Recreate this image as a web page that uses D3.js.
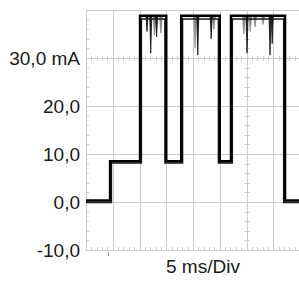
<!DOCTYPE html>
<head>
    <meta charset="utf-8">
    <style>
        body { margin: 0; background: #fff; }
        .lbl { font-family: "Liberation Sans", Arial, sans-serif; font-size: 19px; fill: #1a1a1a; }
    </style>
    <script src="https://d3js.org/d3.v7.min.js"></script>
</head>
<body>
<div id="chart"></div>
<script>

    // time in ms, current in mA
    var traceTime = [0, 4.5, 4.5, 10.1, 10.1, 15.0, 15.0, 17.8, 17.8, 25.0, 25.0, 27.1, 27.1, 37.2, 37.2, 40];
    var traceMA   = [0.3, 0.3, 8.5, 8.5, 38.8, 38.8, 8.5, 8.5, 38.8, 38.8, 8.5, 8.5, 38.8, 38.8, 0.3, 0.3];

    // second, slightly inner trace that makes the edges look thick
    var innerTime = [0, 4.75, 4.75, 10.35, 10.35, 14.75, 14.75, 18.05, 18.05, 24.75, 24.75, 27.35, 27.35, 36.95, 36.95, 40];
    var innerMA   = [-0.1, -0.1, 8.1, 8.1, 38.1, 38.1, 8.1, 8.1, 38.1, 38.1, 8.1, 8.1, 38.1, 38.1, -0.1, -0.1];

    // downward glitches from the top level
    var blackSpikeTime = [11.4, 12.1, 13.2, 20.9, 23.4, 30.1, 34.4, 34.8];
    var blackSpikeMA   = [35.5, 31.0, 34.4, 30.6, 34.0, 31.0, 30.6, 33.0];
    var graySpikeTime  = [12.8, 14.0, 20.4, 23.9, 29.5, 30.7, 31.6, 33.1];
    var graySpikeMA    = [34.8, 35.2, 32.0, 36.0, 35.0, 35.5, 36.5, 37.0];

    var yTicks = [-10, 0, 10, 20, 30];
    var yLabels = ["-10,0", "0,0", "10,0", "20,0", "30,0 mA"];
    var xDivs = [0, 5, 10, 15, 20, 25, 30, 35, 40];

    var W = 299, H = 281;

    var x = d3.scaleLinear().domain([0, 40]).range([86, 300]);
    var y = d3.scaleLinear().domain([-10, 40]).range([250, 10]);

    var svg = d3.select("#chart").append("svg")
        .attr("width", W)
        .attr("height", H);

    var grid = svg.append("g");
    var gridColor = "#cdcdcd";

    // vertical division lines
    grid.selectAll(".vl").data(xDivs).enter().append("line")
        .attr("x1", d => Math.round(x(d)) + 0.5)
        .attr("x2", d => Math.round(x(d)) + 0.5)
        .attr("y1", y(40)).attr("y2", y(-10))
        .attr("stroke", gridColor);

    // horizontal lines + top border
    grid.selectAll(".hl").data(yTicks.concat([40])).enter().append("line")
        .attr("x1", x(0)).attr("x2", x(40))
        .attr("y1", d => Math.round(y(d)) + 0.5)
        .attr("y2", d => Math.round(y(d)) + 0.5)
        .attr("stroke", gridColor);

    // minor ticks
    var minorY = d3.range(-10, 40, 2);
    var minorX = d3.range(0, 40, 1);

    // left border ticks
    grid.selectAll(".ly").data(minorY).enter().append("line")
        .attr("x1", x(0)).attr("x2", x(0) + 3)
        .attr("y1", d => Math.round(y(d)) + 0.5)
        .attr("y2", d => Math.round(y(d)) + 0.5)
        .attr("stroke", gridColor);

    // center vertical (t = 30 ms)
    grid.selectAll(".cy").data(minorY).enter().append("line")
        .attr("x1", x(30) - 2).attr("x2", x(30) + 3)
        .attr("y1", d => Math.round(y(d)) + 0.5)
        .attr("y2", d => Math.round(y(d)) + 0.5)
        .attr("stroke", gridColor);

    // center horizontal (30 mA)
    grid.selectAll(".cx").data(minorX).enter().append("line")
        .attr("x1", d => Math.round(x(d)) + 0.5)
        .attr("x2", d => Math.round(x(d)) + 0.5)
        .attr("y1", y(30) - 2).attr("y2", y(30) + 3)
        .attr("stroke", gridColor);

    // bottom border ticks
    grid.selectAll(".bx").data(minorX).enter().append("line")
        .attr("x1", d => Math.round(x(d)) + 0.5)
        .attr("x2", d => Math.round(x(d)) + 0.5)
        .attr("y1", y(-10) - 3).attr("y2", y(-10))
        .attr("stroke", gridColor);

    // trigger mark under the axis
    svg.append("line")
        .attr("x1", Math.round(x(4.05)) + 0.5).attr("x2", Math.round(x(4.05)) + 0.5)
        .attr("y1", y(-10) + 2).attr("y2", y(-10) + 6)
        .attr("stroke", "#999");

    // labels
    svg.selectAll(".yl").data(yTicks).enter().append("text")
        .attr("class", "lbl")
        .attr("x", 80)
        .attr("y", d => y(d))
        .attr("dy", "0.36em")
        .attr("text-anchor", "end")
        .text((d, i) => yLabels[i]);

    svg.append("text")
        .attr("class", "lbl")
        .attr("x", 166)
        .attr("y", 273)
        .text("5 ms/Div");

    // traces
    var line = d3.line()
        .x(d => x(d[0]))
        .y(d => y(d[1]));

    var spikes = svg.append("g");
    spikes.selectAll(".gs").data(d3.zip(graySpikeTime, graySpikeMA)).enter().append("path")
        .attr("d", d => "M" + (x(d[0]) - 1.5) + "," + y(38.8) + "L" + x(d[0]) + "," + y(d[1]) + "L" + (x(d[0]) + 1.5) + "," + y(38.8) + "Z")
        .attr("fill", "#8a8a8a")
        .attr("stroke", "#8a8a8a")
        .attr("stroke-width", 0.8);
    spikes.selectAll(".bs").data(d3.zip(blackSpikeTime, blackSpikeMA)).enter().append("path")
        .attr("d", d => "M" + (x(d[0]) - 1) + "," + y(38.8) + "L" + x(d[0]) + "," + y(d[1]) + "L" + (x(d[0]) + 1) + "," + y(38.8) + "Z")
        .attr("fill", "#111")
        .attr("stroke", "#111")
        .attr("stroke-width", 0.8);

    svg.append("path")
        .datum(d3.zip(innerTime, innerMA))
        .attr("fill", "none")
        .attr("stroke", "#1a1a1a")
        .attr("stroke-width", 1.5)
        .attr("d", line);

    svg.append("path")
        .datum(d3.zip(traceTime, traceMA))
        .attr("fill", "none")
        .attr("stroke", "#000")
        .attr("stroke-width", 2.5)
        .attr("d", line);

</script>
</body>
